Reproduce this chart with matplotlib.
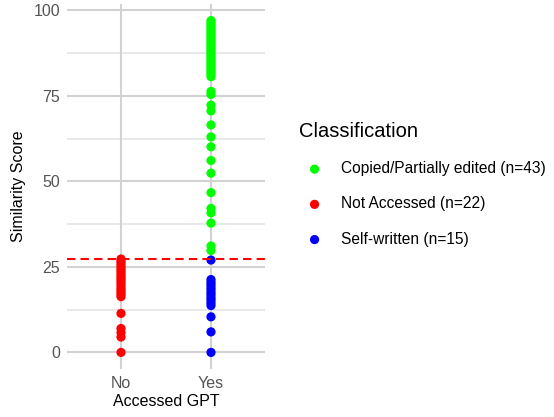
import matplotlib
matplotlib.use("Agg")
import matplotlib.pyplot as plt

plt.rcParams['font.family'] = ['Liberation Sans', 'DejaVu Sans']

# similarity scores
copied = [97.0, 96.4, 95.8, 95.2, 94.6, 94.0, 93.4, 92.8, 92.2, 91.6, 91.0, 90.4,
          89.8, 89.2, 88.6, 88.0, 87.4, 86.8, 86.2, 85.6, 85.0, 84.4, 83.8, 83.2,
          82.6, 82.0, 81.3, 80.6, 76.3, 75.4, 72.3, 70.6, 66.5, 63.0, 60.1, 56.1,
          52.4, 46.7, 42.1, 40.8, 37.8, 31.1, 29.8]
not_accessed = [27.3, 26.6, 26.0, 25.2, 24.6, 23.9, 23.2, 22.5, 21.8, 21.2, 20.5,
                19.8, 19.0, 18.3, 17.6, 17.0, 16.3, 11.4, 7.0, 5.8, 4.5, 0.0]
self_written = [27.0, 21.3, 20.5, 19.8, 19.0, 18.3, 17.5, 16.8, 16.0, 15.3, 14.5,
                13.7, 10.4, 6.0, 0.0]
threshold = 27.3

groups = ["No", "Yes"]
classes = [("Copied/Partially edited", copied, "Yes", "#00FF00"),
           ("Not Accessed", not_accessed, "No", "#FF0000"),
           ("Self-written", self_written, "Yes", "#0000FF")]

fig = plt.figure(figsize=(5.54, 4.17), dpi=100)
ax = fig.add_axes([67 / 554, 48 / 417, 198 / 554, 365 / 417])

for y in [0, 25, 50, 75, 100]:
    ax.axhline(y, color="#D2D2D2", lw=1.5, zorder=0)
for y in [12.5, 37.5, 62.5, 87.5]:
    ax.axhline(y, color="#E2E2E2", lw=1.1, zorder=0)
for x in [1, 2]:
    ax.axvline(x, color="#D2D2D2", lw=1.5, zorder=0)

handles = []
for name, vals, grp, col in classes:
    xpos = groups.index(grp) + 1
    h = ax.scatter([xpos] * len(vals), vals, s=44, color=col, edgecolors="none",
                   zorder=3, label=f"{name} (n={len(vals)})")
    handles.append(h)

ax.axhline(threshold, color="#FF0000", lw=1.5, linestyle=(0, (4, 2.5)), zorder=4)

ax.set_xlim(0.4, 2.6)
ax.set_ylim(-4.85, 101.85)
ax.set_xticks([1, 2])
ax.set_xticklabels(groups)
ax.set_yticks([0, 25, 50, 75, 100])
ax.tick_params(length=0, labelsize=11.5, labelcolor="#555555", pad=5)
for s in ax.spines.values():
    s.set_visible(False)
ax.set_xlabel("Accessed GPT", fontsize=11.5, labelpad=2)
ax.set_ylabel("Similarity Score", fontsize=11.5, labelpad=5)

leg = fig.legend(handles=handles, loc="upper left", bbox_to_anchor=(285 / 554, 1 - 108 / 417),
                 frameon=False, title="Classification", title_fontsize=14.5, fontsize=11.2,
                 labelspacing=1.3, handletextpad=0.7, alignment="left")

fig.savefig("out.png", dpi=100)
